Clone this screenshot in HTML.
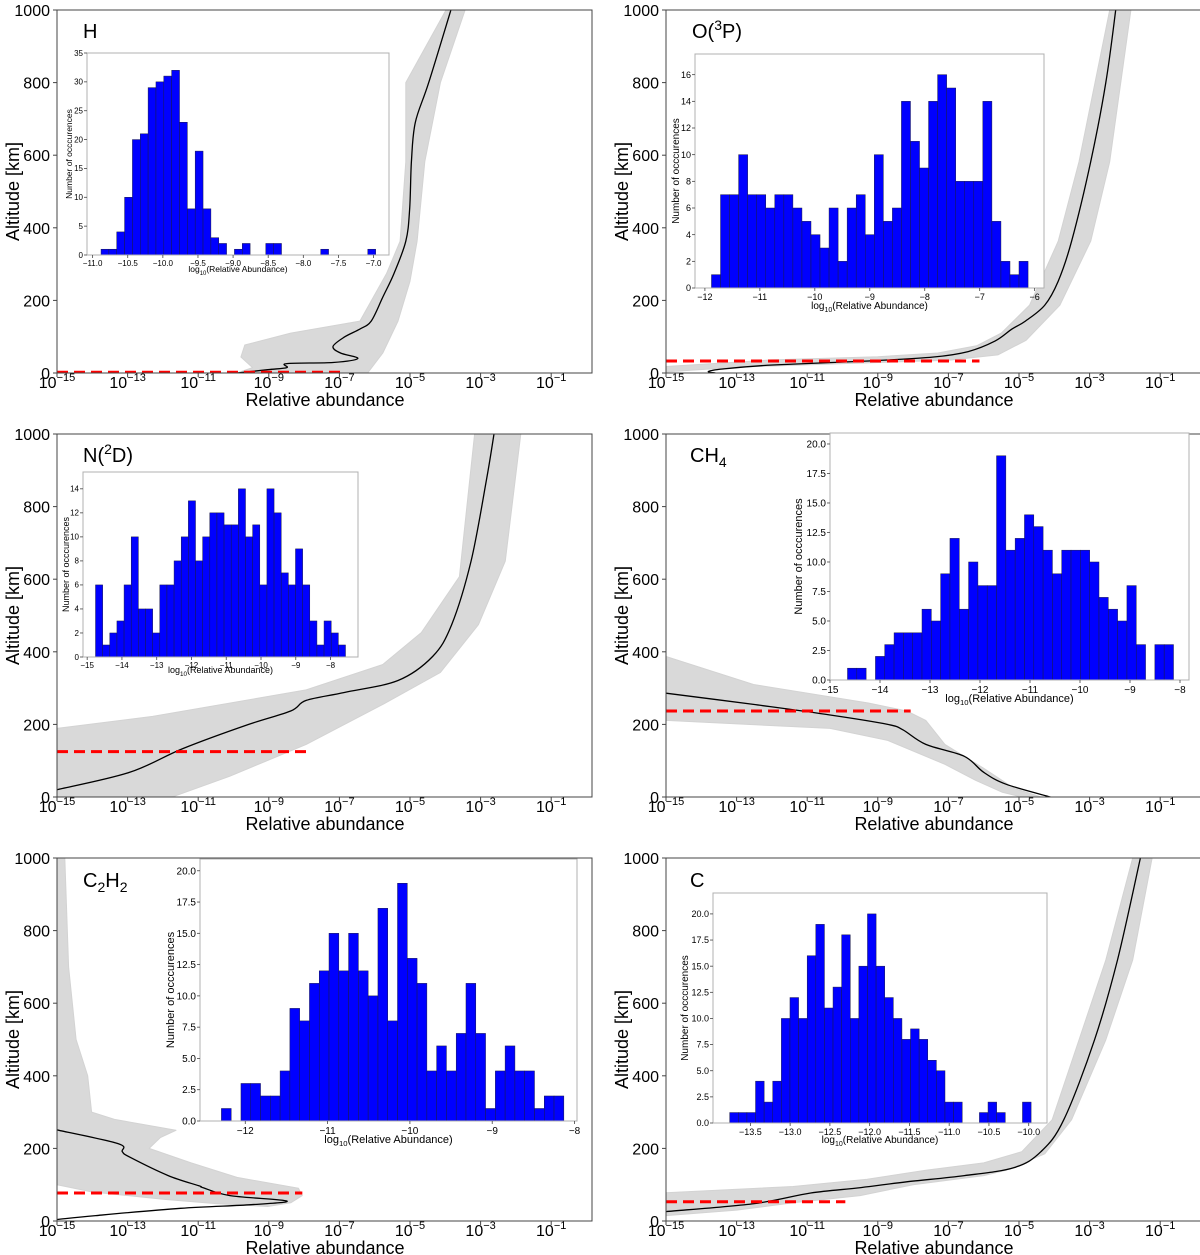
<!DOCTYPE html>
<html><head><meta charset="utf-8"><style>
html,body{margin:0;padding:0;background:#fff;}
svg{display:block;font-family:"Liberation Sans",sans-serif;}
</style></head><body>
<svg id="fig" width="1200" height="1255" viewBox="0 0 1200 1255" xmlns="http://www.w3.org/2000/svg"></svg>
<script>
// ---------- histogram data (35 bins each) ----------
const hCounts   = [1,1,4,10,20,21,29,30,31,32,23,8,18,8,3,2,0,1,2,0,0,2,2,0,0,0,0,0,1,0,0,0,0,0,1];
const oCounts   = [1,7,7,10,7,7,6,7,7,6,5,4,3,6,2,6,7,4,10,5,6,14,11,9,14,16,15,8,8,8,14,5,2,1,2];
const nCounts   = [6,1,2,3,6,10,4,4,2,6,6,8,10,13,8,10,12,12,11,11,14,10,11,6,14,12,7,6,9,6,3,1,3,2,1];
const ch4Counts = [1,1,0,2,3,4,4,4,6,5,9,12,6,10,8,8,19,11,12,14,13,11,9,11,11,11,10,7,6,5,8,3,0,3,3];
const c2h2Counts= [1,0,3,3,2,2,4,9,8,11,12,15,12,15,12,10,17,8,19,13,11,4,6,4,7,11,7,1,4,6,4,4,1,2,2];
const cCounts   = [1,1,1,4,2,4,10,12,10,16,19,11,13,18,10,15,20,15,12,10,8,9,8,6,5,2,2,0,0,1,2,1,0,0,2];
const hBinRange   = [-10.88,-6.97];
const oBinRange   = [-11.88,-6.12];
const nBinRange   = [-14.76,-7.57];
const ch4BinRange = [-14.65,-8.13];
const c2h2BinRange= [-12.29,-8.13];
const cBinRange   = [-13.76,-9.97];
// inset tick labels
const hXTicks = [-11.0,-10.5,-10.0,-9.5,-9.0,-8.5,-8.0,-7.5,-7.0];
const hYTicks = [0,5,10,15,20,25,30,35];
const oXTicks = [-12,-11,-10,-9,-8,-7,-6];
const oYTicks = [0,2,4,6,8,10,12,14,16];
const nXTicks = [-15,-14,-13,-12,-11,-10,-9,-8];
const nYTicks = [0,2,4,6,8,10,12,14];
const ch4XTicks = [-15,-14,-13,-12,-11,-10,-9,-8];
const ch4YTicks = [0,2.5,5,7.5,10,12.5,15,17.5,20];
const c2h2XTicks = [-12,-11,-10,-9,-8];
const c2h2YTicks = [0,2.5,5,7.5,10,12.5,15,17.5,20];
const cXTicks = [-13.5,-13.0,-12.5,-12.0,-11.5,-11.0,-10.5,-10.0];
const cYTicks = [0,2.5,5,7.5,10,12.5,15,17.5,20];
// ---------- main profile data: [log10 abundance, altitude km] ----------
const hMedian = [[-3.84,1000],[-4.47,800],[-4.85,690],[-4.96,582],[-5.01,450],[-5.12,363],[-5.45,275],[-5.77,209],[-6.1,143],[-6.42,121],[-6.86,99],[-7.18,73],[-6.97,55],[-6.48,40],[-7.18,29],[-8.49,26],[-8.49,15],[-9.03,9],[-9.9,0]];
const hEnvelope = [[-3.44,1000],[-4.14,800],[-4.58,582],[-4.8,363],[-5.0,253],[-5.34,143],[-5.77,55],[-6.2,0],[-9.9,0],[-9.46,15],[-9.79,44],[-9.68,77],[-8.38,110],[-6.42,143],[-5.66,275],[-5.28,363],[-5.12,582],[-5.12,800],[-3.98,1000]];
const oMedian = [[-2.26,1000],[-2.54,800],[-2.97,582],[-3.51,363],[-3.89,253],[-4.27,187],[-4.82,143],[-5.2,121],[-5.68,88],[-6.44,59],[-7.42,44],[-9.27,33],[-11.98,22],[-13.4,11],[-13.8,4],[-13.6,0]];
const oEnvelope = [[-1.83,1000],[-2.43,582],[-2.97,363],[-3.84,187],[-4.8,90],[-5.6,50],[-7,35],[-10,26],[-13,16],[-15,3],[-15,18],[-12,36],[-9,45],[-7.3,55],[-6.2,75],[-5.5,110],[-4.7,187],[-3.89,363],[-3.3,582],[-2.43,1000]];
const nMedian = [[-2.62,1000],[-2.84,870],[-3.27,650],[-3.82,475],[-4.36,387],[-5.34,321],[-6.86,288],[-7.94,266],[-8.38,237],[-9.57,200],[-11.42,134],[-12.94,68],[-15,20]];
const nEnvelope = [[-3.17,1000],[-3.6,607],[-4.68,453],[-5.77,365],[-7.94,295],[-12.29,222],[-15,189],[-15,0],[-11.74,0],[-10.11,57],[-7.94,145],[-5.77,255],[-4.14,343],[-3.06,475],[-2.3,650],[-1.86,1000]];
const ch4Median = [[-15,286],[-12.52,255],[-10.35,226],[-8.72,200],[-8.29,185],[-7.64,145],[-6.55,112],[-6.0,68],[-5.36,35],[-4.11,0]];
const ch4Envelope = [[-15,387],[-12.52,310],[-9.27,259],[-8.18,237],[-7.64,211],[-7.1,145],[-6.0,79],[-5.14,24],[-4.38,0],[-4.92,0],[-5.47,13],[-6.23,46],[-7.1,90],[-8.72,156],[-10.35,189],[-15,211]];
const c2h2Median = [[-15,251],[-13.26,213],[-13.15,191],[-12.94,176],[-11.85,125],[-10.98,97],[-10.87,92],[-10.1,70],[-8.49,55],[-9.5,45],[-11.5,35],[-13.9,15],[-15,4]];
const c2h2Envelope = [[-15,1000],[-14.78,1000],[-14.67,700],[-14.46,500],[-14.13,400],[-14.02,300],[-13.37,280],[-11.63,250],[-12.07,230],[-12.39,200],[-11.2,160],[-9.9,120],[-8.16,90],[-8.05,70],[-8.38,50],[-9.03,40],[-10.5,48],[-12,60],[-14,80],[-15,100]];
const cMedian = [[-1.56,1000],[-2.21,719],[-2.86,499],[-3.73,279],[-4.38,191],[-5.14,147],[-6.55,125],[-8.18,108],[-9.48,92],[-10.9,77],[-12.5,48],[-15,26]];
const cEnvelope = [[-1.78,1000],[-2.54,719],[-3.3,499],[-4.06,279],[-4.92,191],[-6.0,160],[-7.64,140],[-9.3,115],[-11.4,95],[-15,78],[-15,15],[-13,30],[-11.4,50],[-9.5,70],[-8,100],[-6,125],[-5.36,140],[-4.27,185],[-3.51,279],[-2.54,499],[-1.78,719],[-1.23,1000]];
// detection limits: [altitude, max log abundance]
const hLimit = [2,-6.86];
const oLimit = [33,-6.12];
const nLimit = [125,-7.94];
const ch4Limit = [237,-8.07];
const c2h2Limit = [77,-8.05];
const cLimit = [53,-9.92];
const mainXTicks = [-15,-13,-11,-9,-7,-5,-3,-1];
const mainYTicks = [0,200,400,600,800,1000];

const NS = "http://www.w3.org/2000/svg";
const svg = document.getElementById('fig');
function el(tag, attrs, parent){
  const e = document.createElementNS(NS, tag);
  for (const k in attrs) e.setAttribute(k, attrs[k]);
  (parent||svg).appendChild(e);
  return e;
}
function fmtMinus(s){ return String(s).replace('-', '\u2212'); }
function smoothPath(pts){
  let d = 'M' + pts[0][0].toFixed(1) + ',' + pts[0][1].toFixed(1);
  for (let i = 0; i < pts.length - 1; i++){
    const p0 = pts[Math.max(0,i-1)], p1 = pts[i], p2 = pts[i+1], p3 = pts[Math.min(pts.length-1,i+2)];
    const c1x = p1[0] + (p2[0]-p0[0])/6, c1y = p1[1] + (p2[1]-p0[1])/6;
    const c2x = p2[0] - (p3[0]-p1[0])/6, c2y = p2[1] - (p3[1]-p1[1])/6;
    d += ' C' + c1x.toFixed(1)+','+c1y.toFixed(1)+' '+c2x.toFixed(1)+','+c2y.toFixed(1)+' '+p2[0].toFixed(1)+','+p2[1].toFixed(1);
  }
  return d;
}

const PX_DEC = 35.3, AX_W = 535, AX_H = 363;

const panels = [
 {key:'h', title:[['H',0]], ax:57, ay:10, tx:83, ty:38, median:hMedian, env:hEnvelope, limit:hLimit,
  counts:hCounts, bins:hBinRange, ix:87, iy:53, iw:302, ih:202, xlim:[-11.08,-6.78], ylim:[0,35], xt:hXTicks, yt:hYTicks, dec:1, ydec:0, fs:8, lfs:8.5, ylx:72, xly:272},
 {key:'o', title:[['O(',0],['3',1],['P)',0]], ax:666, ay:10, tx:692, ty:38, median:oMedian, env:oEnvelope, limit:oLimit,
  counts:oCounts, bins:oBinRange, ix:695, iy:54, iw:349, ih:234, xlim:[-12.18,-5.83], ylim:[0,17.55], xt:oXTicks, yt:oYTicks, dec:0, ydec:0, fs:9, lfs:10, ylx:679, xly:309},
 {key:'n', title:[['N(',0],['2',1],['D)',0]], ax:57, ay:434, tx:83, ty:462, median:nMedian, env:nEnvelope, limit:nLimit,
  counts:nCounts, bins:nBinRange, ix:83, iy:472, iw:275, ih:185, xlim:[-15.12,-7.21], ylim:[0,15.4], xt:nXTicks, yt:nYTicks, dec:0, ydec:0, fs:8, lfs:9, ylx:69, xly:673},
 {key:'ch4', title:[['CH',0],['4',-1]], ax:666, ay:434, tx:690, ty:462, median:ch4Median, env:ch4Envelope, limit:ch4Limit,
  counts:ch4Counts, bins:ch4BinRange, ix:830, iy:433, iw:359, ih:247, xlim:[-15,-7.82], ylim:[0,20.93], xt:ch4XTicks, yt:ch4YTicks, dec:0, ydec:1, fs:10, lfs:11, ylx:802, xly:702},
 {key:'c2h2', title:[['C',0],['2',-1],['H',0],['2',-1]], ax:57, ay:858, tx:83, ty:887, median:c2h2Median, env:c2h2Envelope, limit:c2h2Limit,
  counts:c2h2Counts, bins:c2h2BinRange, ix:200, iy:859, iw:377, ih:262, xlim:[-12.55,-7.97], ylim:[0,20.94], xt:c2h2XTicks, yt:c2h2YTicks, dec:0, ydec:1, fs:10, lfs:11, ylx:174, xly:1143},
 {key:'c', title:[['C',0]], ax:666, ay:858, tx:690, ty:887, median:cMedian, env:cEnvelope, limit:cLimit,
  counts:cCounts, bins:cBinRange, ix:713, iy:893, iw:334, ih:230, xlim:[-13.97,-9.77], ylim:[0,22.0], xt:cXTicks, yt:cYTicks, dec:1, ydec:1, fs:9, lfs:10, ylx:688, xly:1143}
];

panels.forEach((p, pi) => {
  const g = el('g', {});
  
  
  const X = v => p.ax + (v + 15) * PX_DEC;
  const Y = a => p.ay + AX_H - a * AX_H / 1000;
  const clipId = 'clip' + pi;
  const cp = el('clipPath', {id: clipId}, g);
  el('rect', {x: p.ax, y: p.ay, width: AX_W, height: AX_H}, cp);
  const plot = el('g', {'clip-path': 'url(#' + clipId + ')'}, g);
  
  
  const env = el('polygon', {points: p.env.map(d => X(d[0]).toFixed(1) + ',' + Y(d[1]).toFixed(1)).join(' '), fill: '#d9d9d9', stroke: '#d3d3d3', 'stroke-width': 1, 'stroke-linejoin': 'round'}, plot);
  
  
  const med = el('path', {d: smoothPath(p.median.map(d => [X(d[0]), Y(d[1])])), fill: 'none', stroke: '#000', 'stroke-width': 1.3, 'stroke-linejoin': 'round'}, plot);
  
  
  const red = el('line', {x1: X(-15), x2: X(p.limit[1]), y1: Y(p.limit[0]), y2: Y(p.limit[0]), stroke: '#ff0000', 'stroke-width': 3, 'stroke-dasharray': '11,6'}, plot);
  
  
  const fr = el('rect', {x: p.ax, y: p.ay, width: AX_W, height: AX_H, fill: 'none', stroke: '#444', 'stroke-width': 1}, g);
  
  
  mainXTicks.forEach(t => {
    const x = X(t);
    el('line', {x1: x, x2: x, y1: p.ay + AX_H, y2: p.ay + AX_H + 4, stroke: '#444', 'stroke-width': 1}, g);
    const tx = el('text', {x: x, y: p.ay + AX_H + 15, 'text-anchor': 'middle', 'font-size': 16, fill: '#000'}, g);
    
    
    const a = el('tspan', {}, tx); a.textContent = '10';
    const b = el('tspan', {dy: -7, 'font-size': 11}, tx); b.textContent = fmtMinus(t);
  });
  mainYTicks.forEach(t => {
    const y = Y(t);
    el('line', {x1: p.ax - 4, x2: p.ax, y1: y, y2: y, stroke: '#444', 'stroke-width': 1}, g);
    const ty = el('text', {x: p.ax - 7, y: y + 6, 'text-anchor': 'end', 'font-size': 16}, g);
    
    
    ty.textContent = t;
  });
  const xl = el('text', {x: p.ax + 268, y: p.ay + AX_H + 33, 'text-anchor': 'middle', 'font-size': 18}, g);
  
  
  xl.textContent = 'Relative abundance';
  const yl = el('text', {x: 0, y: 0, 'text-anchor': 'middle', 'font-size': 18, transform: 'translate(' + (p.ax - 38) + ',' + (p.ay + AX_H / 2) + ') rotate(-90)'}, g);
  
  
  yl.textContent = 'Altitude [km]';
  const tt = el('text', {x: p.tx, y: p.ty, 'font-size': 20}, g);
  
  
  p.title.forEach(s => {
    const sp = el('tspan', {}, tt);
    if (s[1] === 1) { sp.setAttribute('dy', -8); sp.setAttribute('font-size', 14); }
    else if (s[1] === -1) { sp.setAttribute('dy', 5); sp.setAttribute('font-size', 14); }
    else if (sp.previousSibling && sp.previousSibling.getAttribute && sp.previousSibling.getAttribute('dy')) {
      sp.setAttribute('dy', -Number(sp.previousSibling.getAttribute('dy')));
    }
    sp.textContent = s[0];
  });

  const ig = el('g', {}, g);
  
  
  const IX = v => p.ix + (v - p.xlim[0]) / (p.xlim[1] - p.xlim[0]) * p.iw;
  const IY = v => p.iy + p.ih - (v - p.ylim[0]) / (p.ylim[1] - p.ylim[0]) * p.ih;
  el('rect', {x: p.ix, y: p.iy, width: p.iw, height: p.ih, fill: '#fff'}, ig);
  const n = p.counts.length;
  const bw = (p.bins[1] - p.bins[0]) / n;
  p.counts.forEach((c, i) => {
    if (c <= 0) return;
    const x0 = IX(p.bins[0] + i * bw), x1 = IX(p.bins[0] + (i + 1) * bw);
    const r = el('rect', {x: x0, y: IY(c), width: x1 - x0, height: IY(0) - IY(c), fill: '#0000ff', stroke: '#1a1a4a', 'stroke-width': 0.5}, ig);
    
    
  });
  el('rect', {x: p.ix, y: p.iy, width: p.iw, height: p.ih, fill: 'none', stroke: '#b0b0b0', 'stroke-width': 1}, ig);
  p.xt.forEach(t => {
    const x = IX(t);
    el('line', {x1: x, x2: x, y1: p.iy + p.ih, y2: p.iy + p.ih + 3, stroke: '#444', 'stroke-width': 0.8}, ig);
    const tl = el('text', {x: x, y: p.iy + p.ih + 3 + p.fs, 'text-anchor': 'middle', 'font-size': p.fs}, ig);
    
    
    tl.textContent = fmtMinus(t.toFixed(p.dec));
  });
  p.yt.forEach(t => {
    const y = IY(t);
    el('line', {x1: p.ix - 3, x2: p.ix, y1: y, y2: y, stroke: '#444', 'stroke-width': 0.8}, ig);
    const tl = el('text', {x: p.ix - 4, y: y + p.fs * 0.35, 'text-anchor': 'end', 'font-size': p.fs}, ig);
    
    
    tl.textContent = t.toFixed(p.ydec);
  });
  const ixl = el('text', {x: p.ix + p.iw / 2, y: p.xly, 'text-anchor': 'middle', 'font-size': p.lfs}, ig);
  
  
  const s1 = el('tspan', {}, ixl); s1.textContent = 'log';
  const s2 = el('tspan', {dy: 3, 'font-size': p.lfs * 0.7}, ixl); s2.textContent = '10';
  const s3 = el('tspan', {dy: -3}, ixl); s3.textContent = '(Relative Abundance)';
  const iyl = el('text', {x: 0, y: 0, 'text-anchor': 'middle', 'font-size': p.lfs, transform: 'translate(' + p.ylx + ',' + (p.iy + p.ih / 2) + ') rotate(-90)'}, ig);
  
  
  iyl.textContent = 'Number of occcurences';
});
</script>
</body></html>
